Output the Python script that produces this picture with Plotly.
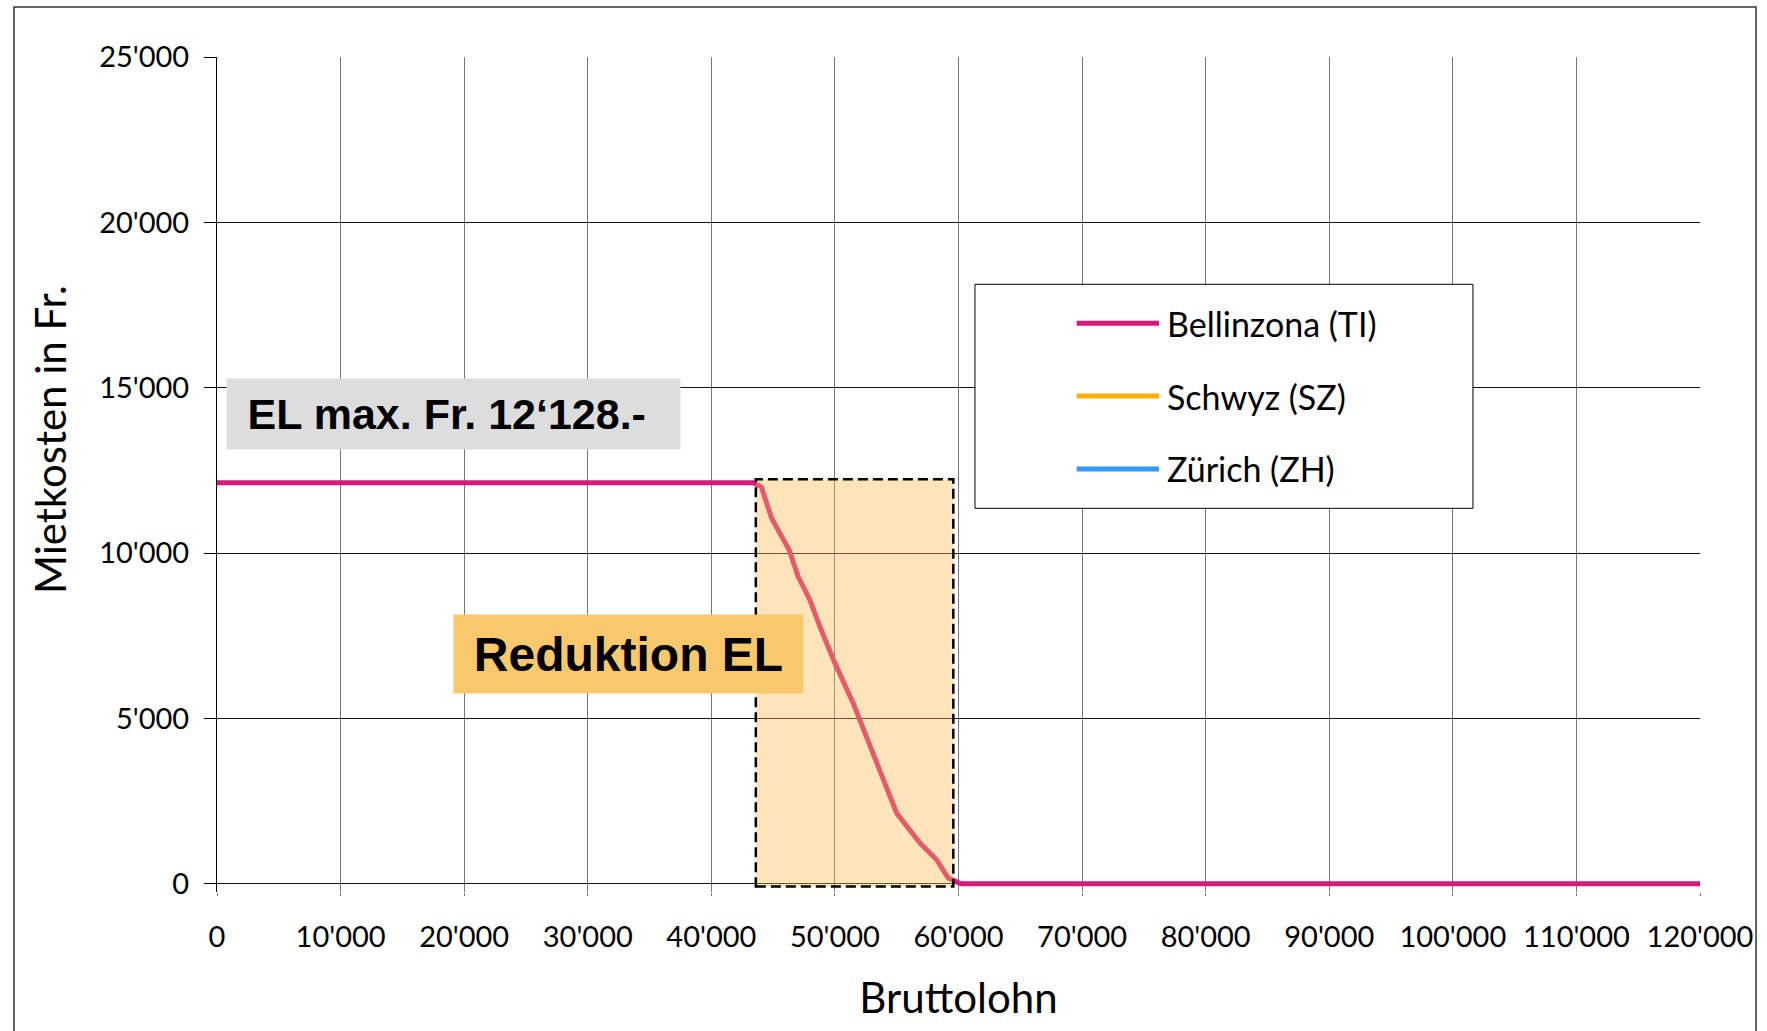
import plotly.graph_objects as go

# ---- data -------------------------------------------------------------
income = [0, 43400, 44050, 44880, 45550, 46300, 47030, 47980, 48790, 50000,
          51480, 52970, 53910, 54990, 56880, 58230, 59170, 59840, 60200, 120000]
bellinzona = [12128, 12128, 12000, 11050, 10600, 10090, 9280, 8580, 7770, 6670,
              5460, 4050, 3240, 2140, 1230, 725, 170, 40, 0, 0]
schwyz = []
zuerich = []

series_names = ["Bellinzona (TI)", "Schwyz (SZ)", "Zürich (ZH)"]
series_colors = ["#D6197B", "#FFB000", "#3399FF"]

x_tickvals = [0, 10000, 20000, 30000, 40000, 50000, 60000, 70000, 80000,
              90000, 100000, 110000, 120000]
x_ticktext = ["0", "10'000", "20'000", "30'000", "40'000", "50'000", "60'000",
              "70'000", "80'000", "90'000", "100'000", "110'000", "120'000"]
y_tickvals = [0, 5000, 10000, 15000, 20000, 25000]
y_ticktext = ["0", "5'000", "10'000", "15'000", "20'000", "25'000"]

# reduction zone (income range where EL is reduced)
red_x0, red_x1 = 43600, 59580
red_y0, red_y1 = -80, 12230

FONT = "Lato"

fig = go.Figure()
fig.add_trace(go.Scatter(x=income, y=bellinzona, mode="lines",
                         name=series_names[0],
                         line=dict(color=series_colors[0], width=5),
                         showlegend=False))
fig.add_trace(go.Scatter(x=[], y=schwyz, mode="lines", name=series_names[1],
                         line=dict(color=series_colors[1], width=5),
                         showlegend=False))
fig.add_trace(go.Scatter(x=[], y=zuerich, mode="lines", name=series_names[2],
                         line=dict(color=series_colors[2], width=5),
                         showlegend=False))

shapes = []
# shaded reduction zone (semi-transparent, above the line)
shapes.append(dict(type="rect", xref="x", yref="y", x0=red_x0, x1=red_x1,
                   y0=red_y0, y1=red_y1, fillcolor="#FABD4F", opacity=0.4,
                   line=dict(width=0), layer="above"))
shapes.append(dict(type="rect", xref="x", yref="y", x0=red_x0, x1=red_x1,
                   y0=red_y0, y1=red_y1, fillcolor="rgba(0,0,0,0)",
                   line=dict(color="black", width=2.5, dash="10px,5px"),
                   layer="above"))
# outer frame
shapes.append(dict(type="rect", xref="paper", yref="paper", x0=-0.1369,
                   x1=1.0378, y0=-0.25, y1=1.0599,
                   line=dict(color="#333333", width=1.5),
                   fillcolor="rgba(0,0,0,0)"))
# manual legend box
shapes.append(dict(type="rect", xref="paper", yref="paper", x0=0.5111,
                   x1=0.8469, y0=0.4595, y1=0.7278,
                   line=dict(color="black", width=1), fillcolor="white",
                   layer="above"))
legend_rows = [0.6811, 0.5940, 0.5066]
annotations = []
for name, col, yy in zip(series_names, series_colors, legend_rows):
    shapes.append(dict(type="line", xref="paper", yref="paper", x0=0.5797,
                       x1=0.6352, y0=yy, y1=yy,
                       line=dict(color=col, width=5), layer="above"))
    annotations.append(dict(xref="paper", yref="paper", x=0.6394, y=yy,
                            xanchor="left", yanchor="middle", text=name,
                            showarrow=False,
                            font=dict(family=FONT, size=34, color="black")))

annotations.append(dict(xref="x", yref="y", x=19137, y=14206,
                        xanchor="center", yanchor="middle",
                        text="<b>\u00a0\u2009EL max. Fr. 12‘128.-</b>",
                        showarrow=False, align="left",
                        width=453, height=70, bgcolor="#DDDDDD", borderpad=0,
                        font=dict(family="Liberation Sans", size=43,
                                  color="black")))
annotations.append(dict(xref="x", yref="y", x=33283, y=6949,
                        xanchor="center", yanchor="middle",
                        text="<b>Reduktion EL</b>", showarrow=False,
                        width=349, height=78, bgcolor="#FAC86C", borderpad=0,
                        font=dict(family="Liberation Sans", size=48,
                                  color="black")))
# y-axis title (placed as in the original, slightly above the axis centre)
annotations.append(dict(xref="paper", yref="paper", x=-0.1126, y=0.5413,
                        xanchor="center", yanchor="middle", textangle=-90,
                        text="Mietkosten in Fr.", showarrow=False,
                        font=dict(family=FONT, size=42, color="black")))

fig.update_layout(
    width=1767, height=1031,
    margin=dict(l=217, r=67, t=57, b=139),
    paper_bgcolor="white", plot_bgcolor="white",
    font=dict(family=FONT, color="black"),
    shapes=shapes, annotations=annotations,
    showlegend=False,
)
fig.update_xaxes(range=[0, 120000], tickvals=x_tickvals, ticktext=x_ticktext,
                 showgrid=True, gridcolor="#777777", gridwidth=1,
                 zeroline=False, showline=False,
                 ticks="outside", ticklen=3, tickcolor="#777777",
                 tickfont=dict(family=FONT, size=29, color="black"),
                 ticklabelstandoff=16,
                 title=dict(text="Bruttolohn", standoff=31,
                            font=dict(family=FONT, size=42, color="black")))
fig.update_yaxes(range=[-250, 25000], tickvals=y_tickvals, ticktext=y_ticktext,
                 showgrid=True, gridcolor="#111111", gridwidth=1,
                 zeroline=True, zerolinecolor="#111111", zerolinewidth=1,
                 showline=True, linecolor="black", linewidth=1,
                 ticks="outside", ticklen=12, tickcolor="black",
                 tickfont=dict(family=FONT, size=29, color="black"),
                 ticklabelstandoff=9)

fig.write_html("out.html",
               config={"displayModeBar": False},
               post_script="document.body.style.margin='0px';"
                           "document.body.style.overflow='hidden';")
